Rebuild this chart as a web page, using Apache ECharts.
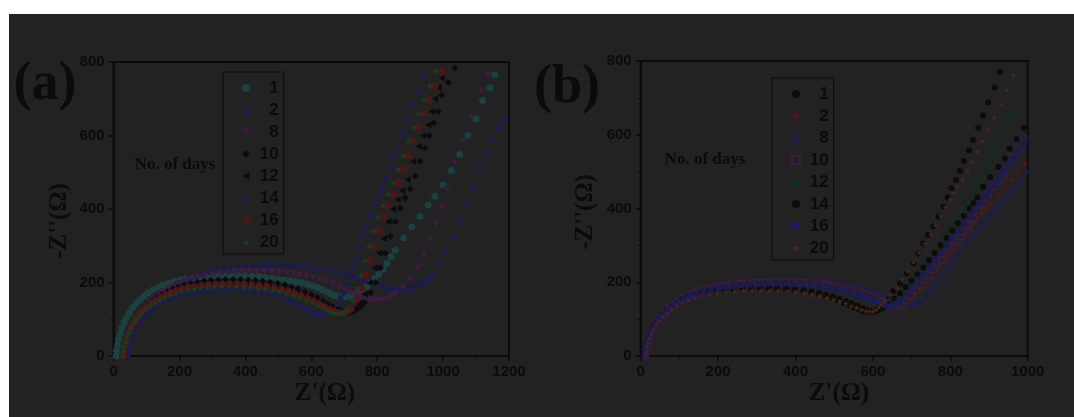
<!DOCTYPE html>
<html>
<head>
<meta charset="utf-8">
<script src="https://cdn.jsdelivr.net/npm/echarts@6/dist/echarts.min.js"></script>
<style>
  html, body { margin: 0; padding: 0; background: #fff; }
  #chart { width: 1074px; height: 417px; }
</style>
</head>
<body>
<div id="chart"></div>
<script>
// panel (a): Z' vs -Z'' for each day
var a_day1 = [[8,0],[9,15],[12,30],[15,45],[20,60],[25,75],[32,90],[39,104],[48,118],[57,131],[68,143],[80,153],[92,163],[105,172],[120,180],[135,187],[150,193],[167,198],[185,203],[202,207],[220,210],[240,212],[260,214],[280,216],[300,217],[320,218],[340,218],[360,218],[380,218],[400,218],[420,217],[440,216],[460,214],[480,212],[500,209],[518,207],[535,205],[552,202],[570,199],[588,195],[605,191],[620,186],[635,180],[648,174],[660,169],[670,165],[680,162],[692,161],[705,161],[718,164],[730,168],[742,174],[755,182],[768,190],[780,200],[792,210],[805,222],[818,236],[830,252],[843,270],[855,288],[880,322],[905,352],[930,380],[955,410],[975,435],[1000,465],[1025,505],[1050,548],[1075,600],[1100,645],[1120,695],[1142,730],[1157,765]];
var a_day2 = [[42,0],[43,14],[46,28],[50,42],[54,55],[60,69],[66,82],[74,95],[82,108],[92,120],[102,132],[114,144],[126,155],[140,166],[155,176],[171,186],[188,195],[206,203],[225,211],[245,218],[265,225],[287,231],[310,236],[332,240],[355,243],[378,246],[400,248],[422,250],[445,251],[468,252],[490,252],[512,252],[535,251],[558,250],[580,248],[602,245],[625,242],[648,238],[670,234],[690,230],[710,225],[728,220],[745,214],[762,208],[780,203],[798,198],[815,193],[832,189],[848,185],[863,183],[878,182],[895,185],[910,190],[925,196],[940,204],[953,213],[965,224],[988,252],[1010,285],[1030,325],[1050,372],[1070,418],[1090,462],[1110,510],[1130,555],[1148,595],[1168,625],[1186,650]];
var a_day8 = [[38,0],[39,14],[42,28],[46,42],[50,56],[56,70],[62,84],[70,97],[78,110],[88,122],[98,134],[110,145],[122,156],[136,166],[150,175],[166,183],[182,191],[200,198],[218,204],[238,210],[258,215],[279,219],[300,222],[322,225],[345,227],[368,229],[390,230],[412,231],[435,231],[458,231],[480,230],[502,228],[525,226],[545,224],[565,221],[585,217],[605,213],[625,208],[645,203],[665,196],[685,188],[703,180],[720,172],[735,166],[750,160],[765,156],[780,153],[792,152],[805,152],[818,154],[830,157],[843,162],[855,168],[878,185],[900,208],[922,240],[942,275],[960,315],[978,358],[995,405],[1012,455],[1035,525],[1060,585],[1085,650],[1115,722],[1137,765]];
var a_day10 = [[35,0],[36,14],[39,28],[43,42],[47,55],[53,69],[59,82],[67,95],[75,107],[85,119],[95,130],[107,141],[120,151],[134,160],[148,168],[164,175],[180,182],[197,188],[215,193],[235,197],[255,201],[275,204],[295,206],[318,207],[340,208],[362,208],[385,208],[408,207],[430,206],[452,204],[475,201],[498,197],[520,193],[540,188],[560,182],[580,175],[600,167],[618,159],[635,150],[650,142],[665,135],[678,129],[690,124],[702,121],[715,120],[728,123],[740,128],[750,136],[760,145],[780,172],[795,200],[810,240],[825,280],[840,325],[855,365],[870,403],[885,430],[900,455],[915,490],[930,530],[945,565],[958,600],[972,635],[985,665],[996,710],[1016,745],[1036,784]];
var a_day12 = [[33,0],[34,14],[37,28],[41,42],[45,55],[51,69],[57,82],[65,94],[73,106],[83,117],[93,128],[105,138],[117,148],[131,156],[145,164],[161,171],[177,178],[194,183],[212,188],[231,192],[250,195],[271,197],[292,199],[313,200],[335,201],[357,201],[380,201],[402,200],[425,199],[447,197],[470,194],[492,190],[515,186],[535,181],[555,175],[575,168],[595,160],[613,152],[630,143],[645,135],[660,128],[673,123],[685,119],[695,118],[705,117],[715,120],[725,124],[735,132],[745,142],[762,168],[777,200],[792,240],[806,280],[820,320],[834,365],[848,400],[862,425],[876,450],[892,480],[909,529],[925,570],[940,600],[955,629],[965,665],[975,700],[986,730],[996,756]];
var a_day14 = [[45,0],[46,12],[49,25],[53,37],[57,50],[63,62],[69,74],[77,86],[85,97],[95,108],[105,118],[117,127],[129,136],[143,144],[157,151],[173,157],[189,163],[206,168],[224,172],[243,175],[262,177],[282,179],[302,180],[323,181],[345,181],[367,181],[390,180],[412,178],[435,176],[458,172],[480,168],[500,163],[520,157],[538,151],[555,145],[570,138],[585,130],[597,124],[608,118],[618,114],[628,112],[640,114],[650,118],[660,123],[668,128],[680,140],[692,158],[702,171],[713,195],[723,216],[730,240],[738,261],[748,297],[758,325],[768,352],[783,382],[798,411],[808,435],[818,457],[829,483],[844,512],[854,547],[869,579],[879,608],[894,647],[905,683],[925,719],[945,763]];
var a_day16 = [[30,0],[31,13],[34,27],[38,40],[42,53],[48,66],[54,79],[62,91],[70,103],[80,114],[90,125],[102,135],[114,144],[128,152],[142,160],[158,167],[174,173],[191,178],[208,183],[227,187],[246,190],[267,192],[288,194],[309,195],[330,196],[352,196],[375,196],[397,195],[420,194],[442,192],[465,189],[488,185],[510,181],[530,176],[550,170],[570,163],[590,156],[608,149],[625,141],[640,134],[655,127],[668,122],[680,118],[690,117],[700,117],[710,121],[720,128],[738,153],[752,185],[765,220],[778,260],[790,300],[803,340],[818,378],[833,410],[848,440],[864,472],[880,508],[895,545],[910,585],[925,622],[940,660],[958,698],[976,735],[996,775]];
var a_day20 = [[28,0],[29,13],[32,26],[36,38],[40,51],[46,63],[52,76],[60,88],[68,99],[78,110],[88,120],[100,129],[112,138],[126,146],[140,153],[156,160],[172,166],[189,171],[206,176],[225,180],[244,183],[264,185],[285,187],[306,188],[328,189],[350,189],[372,189],[394,188],[416,187],[438,185],[460,182],[483,179],[505,175],[525,170],[545,165],[565,159],[585,152],[603,145],[620,138],[635,131],[648,125],[660,120],[670,117],[680,116],[690,116],[699,120],[708,127],[724,152],[738,185],[750,220],[763,260],[776,300],[789,340],[803,378],[818,410],[833,440],[848,472],[864,508],[880,545],[895,585],[910,622],[925,660],[942,698],[960,735],[978,775]];

// panel (b)
var b_day1 = [[10,0],[11,12],[13,25],[16,38],[20,50],[25,63],[30,75],[37,88],[45,100],[54,111],[65,122],[77,132],[90,142],[104,150],[120,158],[137,164],[155,170],[175,175],[195,178],[217,180],[240,182],[262,183],[285,184],[307,184],[330,184],[352,183],[375,182],[397,180],[420,177],[440,173],[460,168],[478,163],[495,157],[510,151],[525,144],[538,138],[550,132],[563,126],[575,121],[587,119],[598,120],[608,126],[618,135],[627,145],[636,156],[653,176],[670,197],[688,224],[705,251],[718,278],[730,305],[743,328],[756,351],[769,378],[782,405],[793,430],[803,455],[815,477],[825,502],[835,529],[848,557],[859,586],[872,619],[885,652],[898,688],[914,728],[928,771]];
var b_day2 = [[12,0],[13,12],[15,25],[18,38],[22,50],[27,62],[32,75],[39,87],[47,99],[56,110],[67,120],[79,130],[92,139],[106,147],[122,155],[139,161],[157,167],[177,171],[197,175],[219,178],[242,180],[264,181],[287,182],[309,182],[332,182],[354,181],[377,180],[399,178],[422,175],[442,171],[462,167],[480,163],[497,158],[513,153],[530,147],[545,142],[560,137],[575,132],[590,128],[602,125],[615,123],[628,124],[640,126],[649,130],[657,134],[670,143],[684,150],[696,156],[709,169],[722,183],[735,199],[748,215],[760,231],[773,247],[786,262],[799,278],[810,292],[821,306],[832,322],[842,337],[851,348],[860,360],[870,373],[881,387],[892,400],[903,414],[922,436],[941,457],[959,477],[976,500],[993,522]];
var b_day8 = [[12,0],[13,12],[15,25],[18,38],[22,50],[27,63],[32,75],[39,88],[46,100],[55,112],[64,123],[75,134],[86,144],[99,153],[112,162],[127,170],[142,177],[159,183],[176,189],[195,194],[214,198],[234,201],[255,204],[277,206],[300,208],[322,209],[345,210],[367,211],[390,211],[412,211],[435,210],[457,209],[480,207],[502,204],[525,201],[545,197],[565,192],[583,186],[600,180],[615,174],[630,168],[645,161],[660,155],[672,150],[685,146],[695,144],[705,143],[714,145],[722,148],[735,161],[746,174],[756,188],[769,206],[782,224],[795,242],[808,260],[821,278],[834,297],[845,311],[855,324],[866,338],[877,353],[888,366],[898,378],[909,392],[920,405],[931,419],[941,432],[952,445],[963,457],[982,476],[997,503]];
var b_day10 = [[12,0],[13,12],[15,25],[18,38],[22,50],[27,62],[32,75],[39,87],[46,99],[55,110],[64,121],[75,131],[86,141],[99,150],[112,158],[127,165],[142,172],[159,178],[176,183],[195,187],[214,191],[234,194],[255,196],[277,198],[300,199],[322,200],[345,201],[367,201],[390,201],[412,200],[435,199],[457,197],[480,194],[500,191],[520,187],[540,182],[560,176],[578,170],[595,163],[610,157],[625,150],[638,145],[650,140],[659,138],[668,137],[678,142],[687,150],[700,164],[713,178],[724,192],[735,205],[746,219],[756,233],[767,247],[778,260],[789,274],[799,287],[809,300],[818,312],[826,324],[834,337],[848,356],[860,373],[873,394],[885,414],[898,437],[911,459],[925,474],[937,486],[950,512],[961,538],[976,563],[990,590]];
var b_day12 = [[10,0],[11,12],[13,25],[16,38],[20,50],[25,63],[30,75],[37,88],[45,100],[54,111],[65,122],[77,132],[90,142],[104,151],[120,159],[137,166],[155,172],[175,177],[195,181],[217,184],[240,186],[262,187],[285,188],[307,188],[330,188],[352,187],[375,186],[397,184],[420,181],[440,177],[460,173],[478,168],[495,163],[512,157],[530,150],[545,143],[560,137],[574,131],[588,125],[599,122],[610,120],[620,124],[630,130],[640,140],[650,150],[665,165],[680,180],[695,197],[710,215],[725,235],[740,255],[755,278],[770,300],[785,322],[800,345],[815,368],[830,390],[843,410],[855,430],[868,460],[877,480],[890,504],[901,532],[914,561],[927,592],[941,622],[958,655],[975,690],[989,728]];
var b_day14 = [[11,0],[12,12],[14,25],[17,38],[21,50],[26,63],[31,75],[38,88],[46,100],[55,111],[66,122],[78,132],[91,142],[105,151],[121,159],[138,166],[156,172],[176,176],[196,180],[218,182],[241,184],[263,185],[286,186],[308,186],[331,186],[353,185],[376,184],[398,182],[421,179],[441,175],[461,171],[478,166],[496,161],[513,155],[530,149],[545,143],[560,136],[573,130],[585,125],[594,122],[602,120],[612,123],[622,128],[631,134],[640,140],[655,155],[670,170],[685,187],[700,205],[715,222],[730,240],[745,260],[760,280],[775,300],[790,320],[805,340],[820,360],[835,380],[850,400],[860,415],[870,430],[885,458],[903,485],[924,513],[941,536],[953,562],[971,588],[990,619]];
var b_day16 = [[12,0],[13,12],[15,25],[18,38],[22,50],[27,62],[32,75],[39,87],[46,99],[55,110],[65,121],[76,131],[88,140],[101,148],[115,156],[130,163],[146,169],[163,175],[181,180],[200,184],[219,187],[239,190],[260,192],[282,194],[305,195],[327,196],[350,196],[372,196],[395,195],[417,194],[440,192],[462,189],[485,186],[505,182],[525,177],[544,172],[562,166],[579,160],[595,154],[609,148],[622,142],[632,138],[642,134],[650,136],[658,140],[665,146],[672,152],[686,168],[700,185],[715,203],[730,222],[745,241],[760,260],[775,280],[790,300],[805,320],[820,340],[835,360],[850,380],[862,397],[875,415],[888,432],[900,450],[912,467],[925,485],[937,502],[950,520],[962,537],[975,555],[990,576]];
var b_day20 = [[13,0],[14,12],[16,24],[19,36],[23,48],[28,60],[33,72],[40,84],[48,96],[57,107],[68,117],[80,127],[93,136],[107,144],[123,152],[140,158],[158,164],[178,168],[198,172],[220,174],[243,176],[265,177],[288,178],[310,178],[333,178],[355,177],[378,176],[400,174],[423,171],[443,167],[463,163],[481,158],[498,153],[514,148],[530,142],[544,136],[558,131],[570,126],[582,122],[591,121],[600,121],[608,126],[615,133],[622,141],[630,150],[645,167],[660,185],[675,207],[690,230],[705,255],[720,280],[735,305],[750,330],[762,355],[775,380],[788,403],[800,425],[810,443],[818,460],[832,477],[845,502],[858,527],[870,554],[884,583],[898,616],[914,647],[931,683],[946,721],[963,762]];

var dayNames = ['1', '2', '8', '10', '12', '14', '16', '20'];
var xTicksA = [0, 1200, 200];
var xTicksB = [0, 1000, 200];
var yTicks = [0, 800, 200];

var ink = '#0b0b0b';
var bg = '#222222';
var starPath = 'path://M50,0 L61,35 L98,35 L68,57 L79,91 L50,70 L21,91 L32,57 L2,35 L39,35 Z';
var triDown = 'path://M0,0 L10,0 L5,9 Z';
var triLeft = 'path://M9,0 L9,10 L0,5 Z';
var triRight = 'path://M0,0 L0,10 L9,5 Z';

var seriesA = [
  { d: a_day1,  color: '#1b4040', symbol: 'circle' },
  { d: a_day2,  color: '#1b1b54', symbol: 'triangle' },
  { d: a_day8,  color: '#3f1b41', symbol: triDown },
  { d: a_day10, color: '#0c0c0c', symbol: 'diamond' },
  { d: a_day12, color: '#0c0c0c', symbol: triLeft },
  { d: a_day14, color: '#1b1b54', symbol: triRight },
  { d: a_day16, color: '#4e1616', symbol: 'circle' },
  { d: a_day20, color: '#183f1e', symbol: starPath }
];
var seriesB = [
  { d: b_day1,  color: '#0c0c0c', symbol: 'circle' },
  { d: b_day2,  color: '#4e1616', symbol: 'diamond' },
  { d: b_day8,  color: '#1b1b54', symbol: 'triangle' },
  { d: b_day10, color: '#3f1b41', symbol: 'rect', hollow: true },
  { d: b_day12, color: '#112c17', symbol: 'circle' },
  { d: b_day14, color: '#0c0c0c', symbol: 'circle' },
  { d: b_day16, color: '#1b1b54', symbol: 'rect' },
  { d: b_day20, color: '#4c2514', symbol: starPath }
];

function makeSeries(list, prefix, idx, size) {
  return list.map(function (s, i) {
    return {
      name: prefix + dayNames[i],
      type: 'scatter',
      xAxisIndex: idx,
      yAxisIndex: idx,
      data: s.d,
      symbol: s.symbol,
      symbolKeepAspect: true,
      symbolSize: size,
      itemStyle: s.hollow
        ? { color: bg, borderColor: s.color, borderWidth: 1.3, opacity: 1 }
        : { color: s.color, opacity: 1 },
      emphasis: { disabled: true }
    };
  });
}

var tickFont = { color: ink, fontSize: 15, fontWeight: 'bold', fontFamily: 'Liberation Sans' };

function makeAxis(idx, t, margin) {
  return {
    type: 'value', gridIndex: idx, min: t[0], max: t[1], interval: t[2],
    axisLine: { onZero: false, lineStyle: { color: ink, width: 2 } },
    axisTick: { length: 5, lineStyle: { color: ink, width: 1.5 } },
    minorTick: { show: true, splitNumber: 2, length: 3, lineStyle: { color: ink } },
    splitLine: { show: false },
    axisLabel: Object.assign({ margin: margin, formatter: function (v) { return String(v); } }, tickFont)
  };
}

function makeLegend(prefix, left, top) {
  return {
    orient: 'vertical', left: left, top: top,
    data: dayNames.map(function (n) { return prefix + n; }),
    itemWidth: 8, itemHeight: 8, itemGap: 4,
    padding: [7, 5, 3, 19],
    borderColor: ink, borderWidth: 1,
    selectedMode: false,
    symbolKeepAspect: true,
    formatter: function (name) {
      var n = name.slice(1);
      return n.length < 2 ? '   ' + n : ' ' + n;
    },
    textStyle: { color: ink, fontSize: 17, fontWeight: 'bold', fontFamily: 'Liberation Sans', lineHeight: 18 }
  };
}

function label(text, x, y, font, rot) {
  return {
    type: 'text', x: x, y: y, rotation: rot || 0, z: 5,
    style: { text: text, fill: ink, font: font, textAlign: 'center', textVerticalAlign: 'middle' }
  };
}

var chart = echarts.init(document.getElementById('chart'), null, { renderer: 'canvas' });
chart.setOption({
  backgroundColor: '#ffffff',
  animation: false,
  grid: [
    { left: 113.6, top: 62, width: 395.4, height: 294, show: true, borderColor: ink, borderWidth: 2, backgroundColor: 'transparent' },
    { left: 640.7, top: 61, width: 387, height: 295, show: true, borderColor: ink, borderWidth: 2, backgroundColor: 'transparent' }
  ],
  xAxis: [makeAxis(0, xTicksA, 8), makeAxis(1, xTicksB, 8)],
  yAxis: [makeAxis(0, yTicks, 9), makeAxis(1, yTicks, 9)],
  legend: [makeLegend('a', 223, 72), makeLegend('b', 772, 78)],
  graphic: [
    { type: 'rect', shape: { x: 9, y: 14, width: 1065, height: 403 }, style: { fill: bg }, z: -10, silent: true },
    label('(a)', 45, 85, 'bold 54px "Liberation Serif"'),
    label('(b)', 567, 88, 'bold 54px "Liberation Serif"'),
    label('No. of days', 175, 165, 'bold 17px "Liberation Serif"'),
    label('No. of days', 705, 160, 'bold 17px "Liberation Serif"'),
    label("Z'(\u03A9)", 325, 394, 'bold 25px "Liberation Serif"'),
    label("Z'(\u03A9)", 839, 394, 'bold 25px "Liberation Serif"'),
    label("-Z''(\u03A9)", 60, 221, 'bold 25px "Liberation Serif"', Math.PI / 2),
    label("-Z''(\u03A9)", 586, 212, 'bold 25px "Liberation Serif"', Math.PI / 2)
  ],
  series: makeSeries(seriesA, 'a', 0, 7).concat(makeSeries(seriesB, 'b', 1, 6))
});
</script>
</body>
</html>
